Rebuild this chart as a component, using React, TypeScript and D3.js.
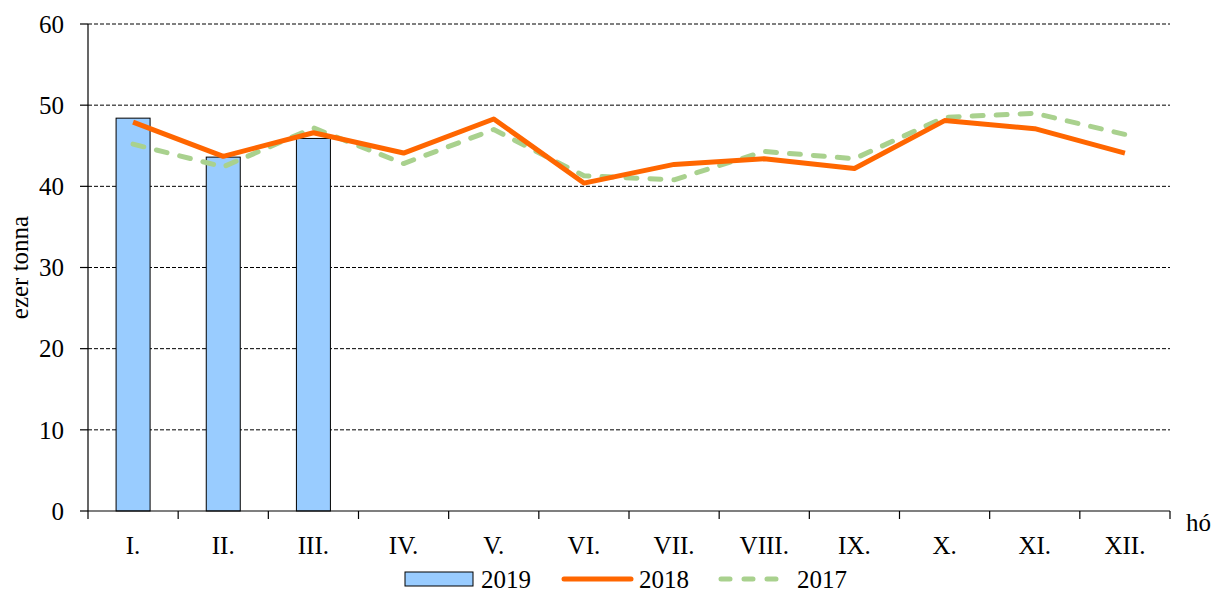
import React from "react";
import * as d3 from "d3";

const months = ["I.", "II.", "III.", "IV.", "V.", "VI.", "VII.", "VIII.", "IX.", "X.", "XI.", "XII."];
const values2019 = [48.4, 43.6, 45.9];
const values2018 = [47.9, 43.7, 46.6, 44.1, 48.3, 40.4, 42.7, 43.4, 42.2, 48.1, 47.1, 44.1];
const values2017 = [45.2, 42.4, 47.2, 42.8, 47.0, 41.3, 40.8, 44.3, 43.4, 48.5, 49.0, 46.4];
const yTicks = [0, 10, 20, 30, 40, 50, 60];

const W = 1216;
const H = 592;
const left = 88;
const right = 1170;
const top = 24;
const bottom = 511;
const FONT = "'Liberation Serif', 'Times New Roman', serif";
const FS = 25;
const ORANGE = "#FF6600";
const GREEN = "#A9D18E";
const BLUE = "#99CCFF";

export default function App() {
  const x = d3.scaleBand<string>().domain(months).range([left, right]).paddingInner(0).paddingOuter(0);
  const y = d3.scaleLinear().domain([0, 60]).range([bottom, top]);
  const bw = x.bandwidth();
  const barW = 34;
  const cx = (i: number) => (x(months[i]) as number) + bw / 2;

  const line = d3
    .line<number>()
    .x((_, i) => cx(i))
    .y((d) => y(d));

  return (
    <svg width={W} height={H} style={{ position: "absolute", left: 0, top: 0, background: "#fff" }} fontFamily={FONT}>
      {/* grid */}
      {yTicks
        .filter((t) => t > 0)
        .map((t) => (
          <line key={"g" + t} x1={left} x2={right} y1={y(t)} y2={y(t)} stroke="#000" strokeWidth={1} strokeDasharray="4,2" />
        ))}
      {/* bars */}
      {values2019.map((v, i) => (
        <rect key={"b" + i} x={cx(i) - barW / 2} y={y(v)} width={barW} height={y(0) - y(v)} fill={BLUE} stroke="#000" strokeWidth={1} />
      ))}
      {/* lines */}
      <path d={line(values2017) || ""} fill="none" stroke={GREEN} strokeWidth={5} strokeDasharray="11,13" strokeLinecap="round" strokeLinejoin="round" />
      <path d={line(values2018) || ""} fill="none" stroke={ORANGE} strokeWidth={5} strokeLinejoin="round" />
      {/* y axis */}
      <line x1={left} x2={left} y1={top} y2={bottom} stroke="#000" strokeWidth={1.2} />
      {yTicks.map((t) => (
        <g key={"y" + t}>
          <line x1={left - 8} x2={left} y1={y(t)} y2={y(t)} stroke="#000" strokeWidth={1.2} />
          <text x={64} y={y(t)} dy="0.35em" textAnchor="end" fontSize={FS} fill="#000">
            {t}
          </text>
        </g>
      ))}
      {/* x axis */}
      <line x1={left} x2={right} y1={bottom} y2={bottom} stroke="#000" strokeWidth={1.2} />
      {months.map((m, i) => (
        <line key={"xt" + i} x1={x(m) as number} x2={x(m) as number} y1={bottom} y2={bottom + 8} stroke="#000" strokeWidth={1.2} />
      ))}
      <line x1={right} x2={right} y1={bottom} y2={bottom + 8} stroke="#000" strokeWidth={1.2} />
      {months.map((m, i) => (
        <text key={"xl" + i} x={cx(i)} y={554} textAnchor="middle" fontSize={FS} fill="#000">
          {m}
        </text>
      ))}
      <text x={1186} y={531} fontSize={FS} fill="#000">
        hó
      </text>
      <text transform={`translate(28,${(top + bottom) / 2}) rotate(-90)`} textAnchor="middle" fontSize={FS} fill="#000">
        ezer tonna
      </text>
      {/* legend */}
      <rect x={405} y={572} width={68} height={14} fill={BLUE} stroke="#000" strokeWidth={1} />
      <text x={481} y={588} fontSize={FS} fill="#000">2019</text>
      <line x1={564} x2={631} y1={579} y2={579} stroke={ORANGE} strokeWidth={5} strokeLinecap="round" />
      <text x={639} y={588} fontSize={FS} fill="#000">2018</text>
      <line x1={721} x2={779} y1={579} y2={579} stroke={GREEN} strokeWidth={5} strokeDasharray="9,14" strokeLinecap="round" />
      <text x={797} y={588} fontSize={FS} fill="#000">2017</text>
    </svg>
  );
}
